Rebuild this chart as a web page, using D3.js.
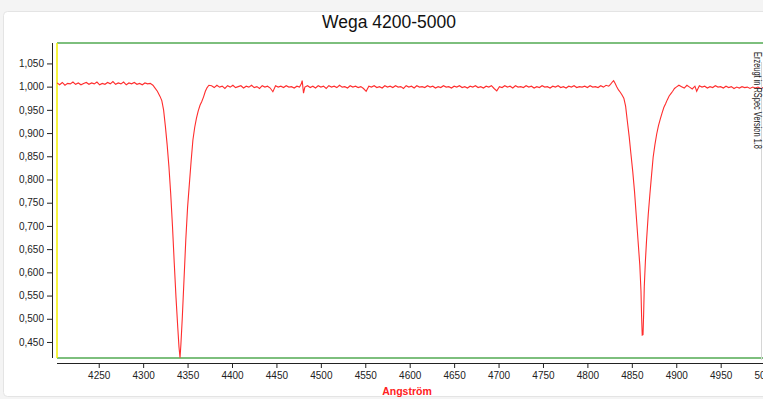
<!DOCTYPE html>
<html>
<head>
<meta charset="utf-8">
<script src="https://cdn.jsdelivr.net/npm/d3@7"></script>
<style>
  html, body { margin: 0; padding: 0; background: #f4f4f4; }
  svg { display: block; font-family: "Liberation Sans", Arial, sans-serif; }
</style>
</head>
<body>
<div id="chart"></div>
<script>
const title = "Wega 4200-5000";
const xLabel = "Angström";
const sideNote = "Erzeugt in RSpec Version 1.8";

const xTicks = [4250, 4300, 4350, 4400, 4450, 4500, 4550, 4600, 4650, 4700, 4750, 4800, 4850, 4900, 4950, 5000];
const yTicks = [0.45, 0.5, 0.55, 0.6, 0.65, 0.7, 0.75, 0.8, 0.85, 0.9, 0.95, 1.0, 1.05];

// spectrum pieces: [wavelength, relative flux]
const contBlue = [
  [4203, 1.008], [4206, 1.004], [4209, 1.009], [4212, 1.003], [4215, 1.007], [4218, 1.006],
  [4221, 1.010], [4224, 1.005], [4227, 1.008], [4230, 1.004], [4233, 1.007], [4236, 1.009],
  [4239, 1.005], [4242, 1.008], [4245, 1.006], [4248, 1.010], [4251, 1.004], [4254, 1.007],
  [4257, 1.005], [4260, 1.009], [4263, 1.006], [4266, 1.011], [4269, 1.005], [4272, 1.008],
  [4275, 1.006], [4278, 1.010], [4281, 1.004], [4284, 1.008], [4287, 1.006], [4290, 1.009],
  [4293, 1.005], [4296, 1.007], [4299, 1.004], [4302, 1.008], [4305, 1.006], [4308, 1.007],
  [4311, 1.003]
];

const hGamma = [
  [4313, 0.998], [4316, 0.990], [4319, 0.979], [4321, 0.970], [4323, 0.950], [4325, 0.915],
  [4327, 0.875], [4329, 0.828], [4331, 0.770], [4333, 0.700], [4335, 0.620], [4337, 0.545],
  [4339, 0.480], [4340.3, 0.440], [4341.5, 0.416], [4342.5, 0.445], [4344, 0.500], [4346, 0.585],
  [4348, 0.670], [4350, 0.740], [4352, 0.790], [4354, 0.840], [4356, 0.885], [4358, 0.912],
  [4360, 0.932], [4362, 0.948], [4364, 0.960], [4366, 0.968], [4368, 0.978], [4370, 0.990],
  [4372, 0.998], [4374, 1.003]
];

const contMid = [
  [4377, 1.002], [4380, 0.998], [4383, 1.003], [4386, 0.999], [4389, 1.001], [4392, 0.996],
  [4395, 1.002], [4398, 0.999], [4401, 1.003], [4404, 0.998], [4407, 1.000], [4410, 1.002],
  [4413, 0.997], [4416, 1.001], [4419, 0.999], [4422, 1.003], [4425, 0.998], [4428, 1.000],
  [4431, 0.996], [4434, 1.002], [4437, 0.999], [4440, 1.001], [4443, 0.997], [4446, 0.989],
  [4449, 1.002], [4452, 0.999], [4455, 1.001], [4458, 0.998], [4461, 1.002], [4464, 0.999],
  [4467, 1.000], [4470, 0.997], [4473, 1.001], [4476, 0.999], [4478, 1.006], [4479, 1.013],
  [4480.5, 0.986], [4482, 0.999], [4485, 1.002], [4488, 0.998], [4491, 1.001], [4494, 0.997],
  [4497, 1.002], [4500, 0.999], [4503, 1.001], [4506, 0.996], [4509, 1.002], [4512, 0.999],
  [4515, 1.001], [4518, 0.998], [4521, 1.003], [4524, 0.999], [4527, 1.000], [4530, 0.997],
  [4533, 1.002], [4536, 0.999], [4539, 1.001], [4542, 0.998], [4545, 1.000], [4548, 0.996],
  [4551, 0.990], [4554, 1.001], [4557, 0.999], [4560, 1.002], [4563, 0.998], [4566, 1.000],
  [4569, 0.997], [4572, 1.002], [4575, 0.999], [4578, 1.001], [4581, 0.998], [4584, 1.002],
  [4587, 0.999], [4590, 1.000], [4593, 0.996], [4596, 1.002], [4599, 0.999], [4602, 1.001],
  [4605, 0.997], [4608, 1.002], [4611, 0.999], [4614, 1.000], [4617, 0.998], [4620, 1.002],
  [4623, 0.999], [4626, 1.001], [4629, 0.997], [4632, 1.000], [4635, 0.998], [4638, 1.002],
  [4641, 0.999], [4644, 1.000], [4647, 0.997], [4650, 1.001], [4653, 0.999], [4656, 1.002],
  [4659, 0.998], [4662, 1.000], [4665, 0.997], [4668, 1.001], [4671, 0.999], [4674, 1.002],
  [4677, 0.998], [4680, 1.000], [4683, 0.997], [4686, 1.001], [4689, 0.999], [4692, 1.002],
  [4695, 0.996], [4698, 0.991], [4701, 1.000], [4704, 0.998], [4707, 1.002], [4710, 0.999],
  [4713, 1.001], [4716, 0.997], [4719, 1.002], [4722, 0.999], [4725, 1.000], [4728, 0.998],
  [4731, 1.002], [4734, 0.999], [4737, 1.001], [4740, 0.997], [4743, 1.000], [4746, 0.998],
  [4749, 1.002], [4752, 0.999], [4755, 1.000], [4758, 0.997], [4761, 1.001], [4764, 0.999],
  [4767, 1.002], [4770, 0.998], [4773, 1.000], [4776, 0.997], [4779, 1.001], [4782, 0.999],
  [4785, 1.002], [4788, 0.998], [4791, 1.000], [4794, 0.999], [4797, 1.001], [4800, 0.998],
  [4803, 1.002], [4806, 0.999], [4809, 1.000], [4812, 0.998], [4815, 1.002], [4818, 0.999],
  [4821, 1.003], [4824, 1.001]
];

const hBeta = [
  [4826, 1.005], [4828, 1.010], [4829.5, 1.013], [4831, 1.008], [4833, 1.000], [4835, 0.993],
  [4837, 0.988], [4839, 0.982], [4841, 0.975], [4843, 0.958], [4845, 0.925], [4847, 0.893],
  [4849, 0.855], [4851, 0.818], [4853, 0.775], [4855, 0.722], [4857, 0.668], [4859, 0.615],
  [4860.3, 0.560], [4861, 0.505], [4861.7, 0.465], [4862.6, 0.466], [4863.3, 0.510], [4864, 0.569],
  [4865.3, 0.625], [4866.6, 0.670], [4868.5, 0.725], [4870.4, 0.770], [4872, 0.805], [4874, 0.848],
  [4876, 0.875], [4878, 0.898], [4880, 0.916], [4882, 0.930], [4884, 0.943], [4886, 0.955],
  [4888, 0.963], [4890, 0.972], [4892, 0.980], [4894, 0.985], [4896, 0.990], [4898, 0.996],
  [4900, 0.999], [4903, 1.003]
];

const contRed = [
  [4906, 1.000], [4909, 0.997], [4912, 1.003], [4915, 0.999], [4918, 0.995], [4921, 1.001],
  [4923, 0.990], [4926, 1.002], [4929, 0.999], [4932, 1.001], [4935, 0.997], [4938, 1.000],
  [4941, 0.998], [4944, 1.002], [4947, 0.999], [4950, 1.000], [4953, 0.997], [4956, 1.001],
  [4959, 0.998], [4962, 1.000], [4965, 0.996], [4968, 0.999], [4971, 0.997], [4974, 1.000],
  [4977, 0.998], [4980, 0.999], [4983, 0.996], [4986, 0.999], [4989, 0.997], [4992, 0.999],
  [4995, 0.996], [4998, 0.998], [5001, 0.997]
];

const spectrum = [].concat(contBlue, hGamma, contMid, hBeta, contRed);

const width = 763, height = 399;
const plot = { left: 57, right: 763, top: 43, bottom: 358 };

const svg = d3.select("#chart").append("svg")
  .attr("width", width)
  .attr("height", height);

// panel
svg.append("rect")
  .attr("x", 3.5).attr("y", 11.5)
  .attr("width", 800).attr("height", 385)
  .attr("rx", 4)
  .attr("fill", "#fff")
  .attr("stroke", "#e4e4e4");

const x = d3.scaleLinear().domain([4200, 5000]).range([54.3, 765.1]);
const y = d3.scaleLinear().domain([0.4155, 1.094]).range([plot.bottom, plot.top]);

svg.append("text")
  .attr("x", 389).attr("y", 28)
  .attr("text-anchor", "middle")
  .attr("font-size", "17.5px")
  .attr("fill", "#111")
  .text(title);

// y axis
const yAxis = d3.axisLeft(y)
  .tickValues(yTicks)
  .tickSize(5)
  .tickPadding(3)
  .tickFormat(d => d3.format(".3f")(d).replace(".", ","));

const yg = svg.append("g")
  .attr("transform", "translate(52,0)")
  .call(yAxis);
yg.select(".domain").attr("d", `M0.5,${plot.top}V${plot.bottom}`).attr("stroke", "#222");
yg.selectAll(".tick line").attr("stroke", "#222");
yg.selectAll(".tick text").attr("font-size", "10px").attr("fill", "#222").attr("font-family", "Liberation Sans, Arial, sans-serif");

// x axis
const xAxis = d3.axisBottom(x)
  .tickValues(xTicks)
  .tickSize(5)
  .tickPadding(4)
  .tickFormat(d3.format("d"));

const xg = svg.append("g")
  .attr("transform", "translate(0,363)")
  .call(xAxis);
xg.select(".domain").attr("d", `M${plot.left},0.5H${plot.right}`).attr("stroke", "#222");
xg.selectAll(".tick line").attr("stroke", "#222");
xg.selectAll(".tick text").attr("font-size", "10px").attr("fill", "#222").attr("font-family", "Liberation Sans, Arial, sans-serif");

// plot frame lines
svg.append("line")
  .attr("x1", plot.left).attr("x2", plot.right)
  .attr("y1", plot.top).attr("y2", plot.top)
  .attr("stroke", "#7dbf7d").attr("stroke-width", 2);
svg.append("line")
  .attr("x1", plot.left).attr("x2", plot.right)
  .attr("y1", plot.bottom).attr("y2", plot.bottom)
  .attr("stroke", "#7dbf7d").attr("stroke-width", 2);
svg.append("line")
  .attr("x1", plot.left).attr("x2", plot.left)
  .attr("y1", plot.top).attr("y2", plot.bottom)
  .attr("stroke", "#f5f000").attr("stroke-width", 1.5);

svg.append("clipPath").attr("id", "clip")
  .append("rect")
  .attr("x", plot.left).attr("y", plot.top - 1)
  .attr("width", plot.right - plot.left).attr("height", plot.bottom - plot.top + 2);

const line = d3.line()
  .x(d => x(d[0]))
  .y(d => y(d[1]));

svg.append("path")
  .datum(spectrum)
  .attr("clip-path", "url(#clip)")
  .attr("fill", "none")
  .attr("stroke", "#ff2d2d")
  .attr("stroke-width", 1.1)
  .attr("d", line);

// right edge
svg.append("line")
  .attr("x1", 761.5).attr("x2", 761.5)
  .attr("y1", 62).attr("y2", 360)
  .attr("stroke", "#d6d6d6");

svg.append("text")
  .attr("transform", "translate(754,52) rotate(90)")
  .attr("font-size", "10px")
  .attr("fill", "#222")
  .attr("textLength", 97)
  .attr("lengthAdjust", "spacingAndGlyphs")
  .text(sideNote);

svg.append("text")
  .attr("x", 407).attr("y", 395)
  .attr("text-anchor", "middle")
  .attr("font-size", "10.5px")
  .attr("font-weight", "bold")
  .attr("fill", "#ff2020")
  .text(xLabel);
</script>
</body>
</html>
